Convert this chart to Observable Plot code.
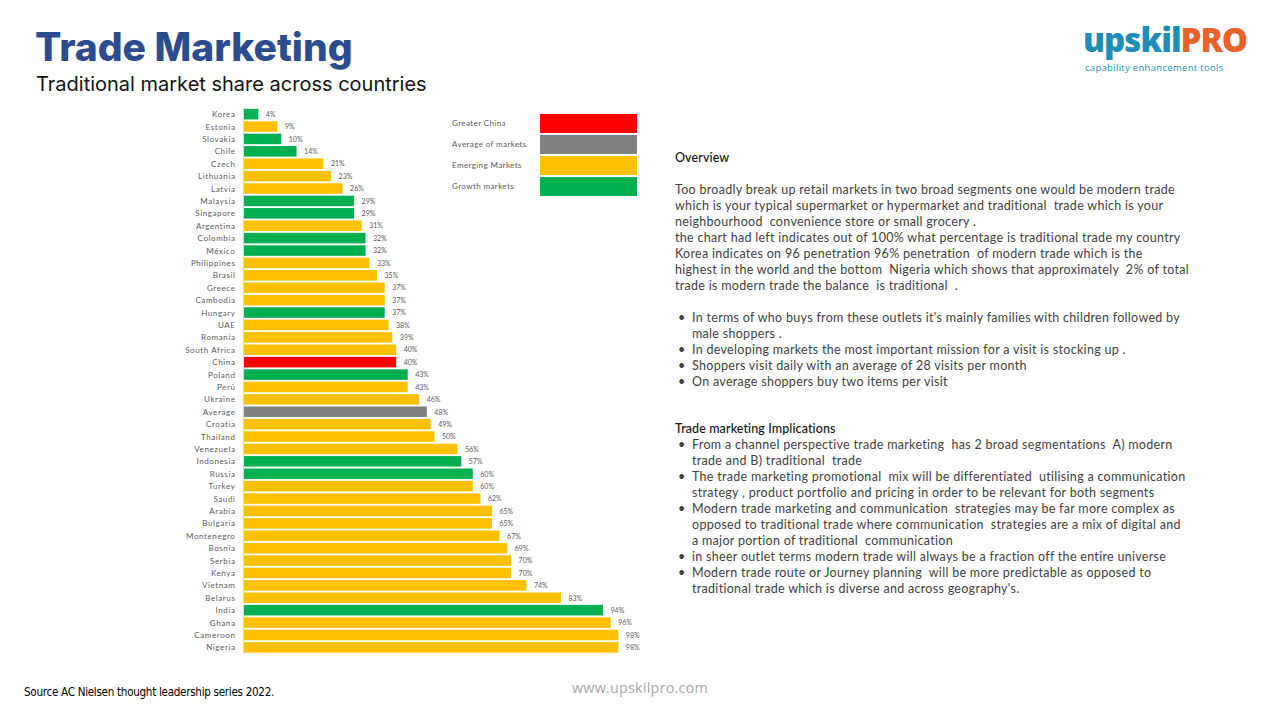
<!DOCTYPE html>
<html>
<head>
<meta charset="utf-8">
<script src="https://cdn.jsdelivr.net/npm/d3@7"></script>
<script src="https://cdn.jsdelivr.net/npm/@observablehq/plot@0.6"></script>
<style>
  html, body { margin:0; padding:0; background:#fff; }
  body { width:1280px; height:720px; position:relative; overflow:hidden; font-family: Lato, "Open Sans", sans-serif; }
  .abs { position:absolute; white-space:nowrap; }
  #title { left:35px; top:23px; font-family: Inter, "Open Sans", sans-serif; font-weight:800; font-size:39px; color:#2B4C8E; letter-spacing:0px; }
  #subtitle { left:36px; top:72px; font-family: Inter, "Open Sans", sans-serif; font-size:20px; color:#111; }
  #chart { left:180px; top:100px; }
  #chart g[aria-label="y-axis tick label"] text { letter-spacing:0.6px; }
  .leg-label { font-size:8px; color:#595959; letter-spacing:0.4px; }
  .leg-sw { position:absolute; width:97px; height:19px; }
  #panel { left:675px; top:150px; font-size:12.5px; color:#404040; line-height:16px; letter-spacing:0.3px; }
  #panel .h { color:#111; font-size:12.5px; font-weight:500; letter-spacing:0.1px; }
  #panel .b { position:relative; padding-left:17px; }
  #panel .b::before { content:"•"; position:absolute; left:3px; top:0; }
  #source { left:24px; top:685px; font-size:11.6px; color:#000; font-family:"Liberation Sans Narrow", "DejaVu Sans Condensed", sans-serif; letter-spacing:-0.3px; }
  #url { left:572px; top:678px; font-size:14.4px; color:#a6a6a6; font-family: "Open Sans", sans-serif; letter-spacing:0.2px; }
  #logo-main { left:1083px; top:22px; font-family:'Open Sans',sans-serif; font-weight:800; font-size:33px; line-height:36px; letter-spacing:-1px; }
  #logo-sub { left:1085px; top:63px; font-family:'Open Sans',sans-serif; font-size:9.5px; line-height:10px; color:#1E8DB8; letter-spacing:0.3px; }
</style>
</head>
<body>
<div id="title" class="abs">Trade Marketing</div>
<div id="subtitle" class="abs">Traditional market share across countries</div>
<div id="chart" class="abs"></div>
<div id="legend"></div>
<div id="panel" class="abs"></div>
<div id="source" class="abs">Source AC Nielsen thought leadership series 2022.</div>
<div id="url" class="abs">www.upskilpro.com</div>
<div id="logo-main" class="abs"><span style="color:#1E8DB8">upskil</span><span style="color:#E8622A">PRO</span></div>
<div id="logo-sub" class="abs">capability enhancement tools</div>
<script>
const countries = ["Korea","Estonia","Slovakia","Chile","Czech","Lithuania","Latvia","Malaysia","Singapore","Argentina","Colombia","México","Philippines","Brasil","Greece","Cambodia","Hungary","UAE","Romania","South Africa","China","Poland","Perú","Ukraine","Average","Croatia","Thailand","Venezuela","Indonesia","Russia","Turkey","Saudi","Arabia","Bulgaria","Montenegro","Bosnia","Serbia","Kenya","Vietnam","Belarus","India","Ghana","Cameroon","Nigeria"];
const values = [4,9,10,14,21,23,26,29,29,31,32,32,33,35,37,37,37,38,39,40,40,43,43,46,48,49,50,56,57,60,60,62,65,65,67,69,70,70,74,83,94,96,98,98];
const groups = ["Growth markets","Emerging Markets","Growth markets","Growth markets","Emerging Markets","Emerging Markets","Emerging Markets","Growth markets","Growth markets","Emerging Markets","Growth markets","Growth markets","Emerging Markets","Emerging Markets","Emerging Markets","Emerging Markets","Growth markets","Emerging Markets","Emerging Markets","Emerging Markets","Greater China","Growth markets","Emerging Markets","Emerging Markets","Average of markets","Emerging Markets","Emerging Markets","Emerging Markets","Growth markets","Growth markets","Emerging Markets","Emerging Markets","Emerging Markets","Emerging Markets","Emerging Markets","Emerging Markets","Emerging Markets","Emerging Markets","Emerging Markets","Emerging Markets","Growth markets","Emerging Markets","Emerging Markets","Emerging Markets"];
const legendLabels = ["Greater China","Average of markets","Emerging Markets","Growth markets"];
const legendColors = ["#FF0000","#808080","#FFC000","#00B050"];

const data = countries.map((c,i)=>({country:c, value:values[i], group:groups[i]}));

const chart = Plot.plot({
  width: 470,
  height: 560,
  marginLeft: 63,
  marginRight: 24,
  marginTop: 7,
  marginBottom: 5.5,
  x: {domain:[0,100], axis:null},
  y: {domain: countries, padding:0.15, round:false, label:null},
  color: {domain: legendLabels, range: legendColors},
  style: {fontFamily:"Lato, sans-serif", background:"transparent", color:"#595959", overflow:"visible"},
  marks: [
    Plot.barX(data, {x:"value", y:"country", fill:"group"}),
    Plot.ruleX([0], {stroke:"#d9d9d9"}),
    Plot.text(data, {x:"value", y:"country", text:d=>d.value+"%", dx:7, textAnchor:"start", fill:"#595959", fontSize:7}),
    Plot.axisY({tickSize:0, tickPadding:8, fontSize:8, label:null, fill:"#595959"})
  ]
});
document.getElementById("chart").appendChild(chart);

// Legend (from the same color scale)
const leg = document.getElementById("legend");
const sc = chart.scale("color");
legendLabels.forEach((lab,i)=>{
  const y = 114 + i*21;
  const t = document.createElement("div");
  t.className = "abs leg-label";
  t.style.left = "452px"; t.style.top = (y+4)+"px";
  t.textContent = lab;
  leg.appendChild(t);
  const s = document.createElement("div");
  s.className = "leg-sw";
  s.style.left = "540px"; s.style.top = y+"px";
  s.style.background = sc.apply(lab);
  leg.appendChild(s);
});

// Text panel
const overviewLines = [
  "Too broadly break up retail markets in two broad segments one would be modern trade",
  "which is your typical supermarket or hypermarket and traditional  trade which is your",
  "neighbourhood  convenience store or small grocery .",
  "the chart had left indicates out of 100% what percentage is traditional trade my country",
  "Korea indicates on 96 penetration 96% penetration  of modern trade which is the",
  "highest in the world and the bottom  Nigeria which shows that approximately  2% of total",
  "trade is modern trade the balance  is traditional  ."
];
const overviewBullets = [
  ["In terms of who buys from these outlets it's mainly families with children followed by","male shoppers ."],
  ["In developing markets the most important mission for a visit is stocking up ."],
  ["Shoppers visit daily with an average of 28 visits per month"],
  ["On average shoppers buy two items per visit"]
];
const implBullets = [
  ["From a channel perspective trade marketing  has 2 broad segmentations  A) modern","trade and B) traditional  trade"],
  ["The trade marketing promotional  mix will be differentiated  utilising a communication","strategy , product portfolio and pricing in order to be relevant for both segments"],
  ["Modern trade marketing and communication  strategies may be far more complex as","opposed to traditional trade where communication  strategies are a mix of digital and","a major portion of traditional  communication"],
  ["in sheer outlet terms modern trade will always be a fraction off the entire universe"],
  ["Modern trade route or Journey planning  will be more predictable as opposed to","traditional trade which is diverse and across geography's."]
];
const esc = s => s.replace(/&/g,"&amp;").replace(/</g,"&lt;").replace(/  /g," &nbsp;");
let html = '<div class="h">Overview</div><div style="height:16px"></div>';
html += overviewLines.map(l=>'<div>'+esc(l)+'</div>').join("");
html += '<div style="height:16px"></div>';
html += overviewBullets.map(b=>'<div class="b">'+b.map(esc).join("<br>")+'</div>').join("");
html += '<div style="height:31px"></div>';
html += '<div class="h">Trade marketing Implications</div>';
html += implBullets.map(b=>'<div class="b">'+b.map(esc).join("<br>")+'</div>').join("");
document.getElementById("panel").innerHTML = html;
</script>
</body>
</html>
